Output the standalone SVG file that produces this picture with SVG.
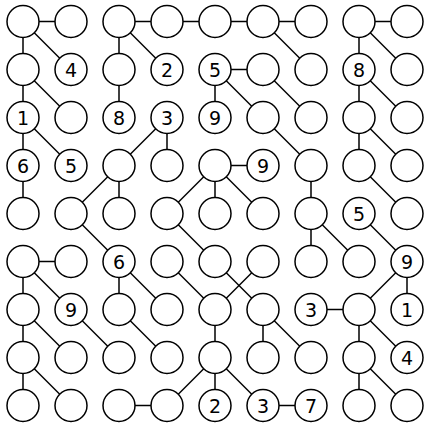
<svg xmlns="http://www.w3.org/2000/svg" width="433" height="432" viewBox="0 0 433 432">
<style>
.n circle{fill:#fff;stroke:#000;stroke-width:1.5}
.n text{font-family:"DejaVu Sans",sans-serif;font-size:19px;text-anchor:middle;fill:#000}
#connectors line{stroke:#000;stroke-width:1.5}
</style>
<rect width="433" height="432" fill="#fff"/>
<g id="connectors">
<line x1="23" y1="21.5" x2="71" y2="21.5"/>
<line x1="23" y1="21.5" x2="23" y2="69.5"/>
<line x1="23" y1="21.5" x2="71" y2="69.5"/>
<line x1="23" y1="69.5" x2="23" y2="117.5"/>
<line x1="23" y1="69.5" x2="71" y2="117.5"/>
<line x1="23" y1="117.5" x2="23" y2="165.5"/>
<line x1="23" y1="117.5" x2="71" y2="165.5"/>
<line x1="23" y1="165.5" x2="23" y2="213.5"/>
<line x1="119" y1="21.5" x2="167" y2="21.5"/>
<line x1="167" y1="21.5" x2="215" y2="21.5"/>
<line x1="215" y1="21.5" x2="263" y2="21.5"/>
<line x1="263" y1="21.5" x2="311" y2="21.5"/>
<line x1="119" y1="21.5" x2="119" y2="69.5"/>
<line x1="119" y1="21.5" x2="167" y2="69.5"/>
<line x1="119" y1="69.5" x2="119" y2="117.5"/>
<line x1="263" y1="21.5" x2="311" y2="69.5"/>
<line x1="215" y1="69.5" x2="263" y2="69.5"/>
<line x1="215" y1="69.5" x2="215" y2="117.5"/>
<line x1="215" y1="69.5" x2="263" y2="117.5"/>
<line x1="263" y1="69.5" x2="311" y2="117.5"/>
<line x1="263" y1="117.5" x2="311" y2="165.5"/>
<line x1="359" y1="21.5" x2="407" y2="21.5"/>
<line x1="359" y1="21.5" x2="359" y2="69.5"/>
<line x1="359" y1="21.5" x2="407" y2="69.5"/>
<line x1="359" y1="69.5" x2="359" y2="117.5"/>
<line x1="359" y1="69.5" x2="407" y2="117.5"/>
<line x1="359" y1="117.5" x2="359" y2="165.5"/>
<line x1="359" y1="117.5" x2="407" y2="165.5"/>
<line x1="359" y1="165.5" x2="407" y2="213.5"/>
<line x1="167" y1="117.5" x2="119" y2="165.5"/>
<line x1="167" y1="117.5" x2="167" y2="165.5"/>
<line x1="119" y1="165.5" x2="71" y2="213.5"/>
<line x1="119" y1="165.5" x2="119" y2="213.5"/>
<line x1="215" y1="165.5" x2="263" y2="165.5"/>
<line x1="215" y1="165.5" x2="167" y2="213.5"/>
<line x1="215" y1="165.5" x2="215" y2="213.5"/>
<line x1="215" y1="165.5" x2="263" y2="213.5"/>
<line x1="311" y1="165.5" x2="311" y2="213.5"/>
<line x1="311" y1="213.5" x2="311" y2="261.5"/>
<line x1="311" y1="213.5" x2="359" y2="261.5"/>
<line x1="359" y1="213.5" x2="407" y2="261.5"/>
<line x1="71" y1="213.5" x2="119" y2="261.5"/>
<line x1="167" y1="213.5" x2="215" y2="261.5"/>
<line x1="23" y1="261.5" x2="71" y2="261.5"/>
<line x1="23" y1="261.5" x2="23" y2="309.5"/>
<line x1="23" y1="261.5" x2="71" y2="309.5"/>
<line x1="119" y1="261.5" x2="119" y2="309.5"/>
<line x1="119" y1="261.5" x2="167" y2="309.5"/>
<line x1="167" y1="261.5" x2="215" y2="309.5"/>
<line x1="215" y1="261.5" x2="263" y2="309.5"/>
<line x1="263" y1="261.5" x2="215" y2="309.5"/>
<line x1="407" y1="261.5" x2="359" y2="309.5"/>
<line x1="407" y1="261.5" x2="407" y2="309.5"/>
<line x1="311" y1="309.5" x2="359" y2="309.5"/>
<line x1="23" y1="309.5" x2="23" y2="357.5"/>
<line x1="23" y1="309.5" x2="71" y2="357.5"/>
<line x1="71" y1="309.5" x2="119" y2="357.5"/>
<line x1="119" y1="309.5" x2="167" y2="357.5"/>
<line x1="215" y1="309.5" x2="215" y2="357.5"/>
<line x1="263" y1="309.5" x2="263" y2="357.5"/>
<line x1="263" y1="309.5" x2="311" y2="357.5"/>
<line x1="359" y1="309.5" x2="359" y2="357.5"/>
<line x1="359" y1="309.5" x2="407" y2="357.5"/>
<line x1="23" y1="357.5" x2="23" y2="405.5"/>
<line x1="23" y1="357.5" x2="71" y2="405.5"/>
<line x1="215" y1="357.5" x2="167" y2="405.5"/>
<line x1="215" y1="357.5" x2="215" y2="405.5"/>
<line x1="215" y1="357.5" x2="263" y2="405.5"/>
<line x1="119" y1="405.5" x2="167" y2="405.5"/>
<line x1="263" y1="405.5" x2="311" y2="405.5"/>
<line x1="359" y1="357.5" x2="359" y2="405.5"/>
<line x1="359" y1="357.5" x2="407" y2="405.5"/>
</g>
<g id="n-0-0" class="n" transform="translate(23,21.5)"><circle r="16"/></g>
<g id="n-0-1" class="n" transform="translate(71,21.5)"><circle r="16"/></g>
<g id="n-0-2" class="n" transform="translate(119,21.5)"><circle r="16"/></g>
<g id="n-0-3" class="n" transform="translate(167,21.5)"><circle r="16"/></g>
<g id="n-0-4" class="n" transform="translate(215,21.5)"><circle r="16"/></g>
<g id="n-0-5" class="n" transform="translate(263,21.5)"><circle r="16"/></g>
<g id="n-0-6" class="n" transform="translate(311,21.5)"><circle r="16"/></g>
<g id="n-0-7" class="n" transform="translate(359,21.5)"><circle r="16"/></g>
<g id="n-0-8" class="n" transform="translate(407,21.5)"><circle r="16"/></g>
<g id="n-1-0" class="n" transform="translate(23,69.5)"><circle r="16"/></g>
<g id="n-1-1" class="n" transform="translate(71,69.5)"><circle r="16"/><text y="7.5">4</text></g>
<g id="n-1-2" class="n" transform="translate(119,69.5)"><circle r="16"/></g>
<g id="n-1-3" class="n" transform="translate(167,69.5)"><circle r="16"/><text y="7.5">2</text></g>
<g id="n-1-4" class="n" transform="translate(215,69.5)"><circle r="16"/><text y="7.5">5</text></g>
<g id="n-1-5" class="n" transform="translate(263,69.5)"><circle r="16"/></g>
<g id="n-1-6" class="n" transform="translate(311,69.5)"><circle r="16"/></g>
<g id="n-1-7" class="n" transform="translate(359,69.5)"><circle r="16"/><text y="7.5">8</text></g>
<g id="n-1-8" class="n" transform="translate(407,69.5)"><circle r="16"/></g>
<g id="n-2-0" class="n" transform="translate(23,117.5)"><circle r="16"/><text y="7.5">1</text></g>
<g id="n-2-1" class="n" transform="translate(71,117.5)"><circle r="16"/></g>
<g id="n-2-2" class="n" transform="translate(119,117.5)"><circle r="16"/><text y="7.5">8</text></g>
<g id="n-2-3" class="n" transform="translate(167,117.5)"><circle r="16"/><text y="7.5">3</text></g>
<g id="n-2-4" class="n" transform="translate(215,117.5)"><circle r="16"/><text y="7.5">9</text></g>
<g id="n-2-5" class="n" transform="translate(263,117.5)"><circle r="16"/></g>
<g id="n-2-6" class="n" transform="translate(311,117.5)"><circle r="16"/></g>
<g id="n-2-7" class="n" transform="translate(359,117.5)"><circle r="16"/></g>
<g id="n-2-8" class="n" transform="translate(407,117.5)"><circle r="16"/></g>
<g id="n-3-0" class="n" transform="translate(23,165.5)"><circle r="16"/><text y="7.5">6</text></g>
<g id="n-3-1" class="n" transform="translate(71,165.5)"><circle r="16"/><text y="7.5">5</text></g>
<g id="n-3-2" class="n" transform="translate(119,165.5)"><circle r="16"/></g>
<g id="n-3-3" class="n" transform="translate(167,165.5)"><circle r="16"/></g>
<g id="n-3-4" class="n" transform="translate(215,165.5)"><circle r="16"/></g>
<g id="n-3-5" class="n" transform="translate(263,165.5)"><circle r="16"/><text y="7.5">9</text></g>
<g id="n-3-6" class="n" transform="translate(311,165.5)"><circle r="16"/></g>
<g id="n-3-7" class="n" transform="translate(359,165.5)"><circle r="16"/></g>
<g id="n-3-8" class="n" transform="translate(407,165.5)"><circle r="16"/></g>
<g id="n-4-0" class="n" transform="translate(23,213.5)"><circle r="16"/></g>
<g id="n-4-1" class="n" transform="translate(71,213.5)"><circle r="16"/></g>
<g id="n-4-2" class="n" transform="translate(119,213.5)"><circle r="16"/></g>
<g id="n-4-3" class="n" transform="translate(167,213.5)"><circle r="16"/></g>
<g id="n-4-4" class="n" transform="translate(215,213.5)"><circle r="16"/></g>
<g id="n-4-5" class="n" transform="translate(263,213.5)"><circle r="16"/></g>
<g id="n-4-6" class="n" transform="translate(311,213.5)"><circle r="16"/></g>
<g id="n-4-7" class="n" transform="translate(359,213.5)"><circle r="16"/><text y="7.5">5</text></g>
<g id="n-4-8" class="n" transform="translate(407,213.5)"><circle r="16"/></g>
<g id="n-5-0" class="n" transform="translate(23,261.5)"><circle r="16"/></g>
<g id="n-5-1" class="n" transform="translate(71,261.5)"><circle r="16"/></g>
<g id="n-5-2" class="n" transform="translate(119,261.5)"><circle r="16"/><text y="7.5">6</text></g>
<g id="n-5-3" class="n" transform="translate(167,261.5)"><circle r="16"/></g>
<g id="n-5-4" class="n" transform="translate(215,261.5)"><circle r="16"/></g>
<g id="n-5-5" class="n" transform="translate(263,261.5)"><circle r="16"/></g>
<g id="n-5-6" class="n" transform="translate(311,261.5)"><circle r="16"/></g>
<g id="n-5-7" class="n" transform="translate(359,261.5)"><circle r="16"/></g>
<g id="n-5-8" class="n" transform="translate(407,261.5)"><circle r="16"/><text y="7.5">9</text></g>
<g id="n-6-0" class="n" transform="translate(23,309.5)"><circle r="16"/></g>
<g id="n-6-1" class="n" transform="translate(71,309.5)"><circle r="16"/><text y="7.5">9</text></g>
<g id="n-6-2" class="n" transform="translate(119,309.5)"><circle r="16"/></g>
<g id="n-6-3" class="n" transform="translate(167,309.5)"><circle r="16"/></g>
<g id="n-6-4" class="n" transform="translate(215,309.5)"><circle r="16"/></g>
<g id="n-6-5" class="n" transform="translate(263,309.5)"><circle r="16"/></g>
<g id="n-6-6" class="n" transform="translate(311,309.5)"><circle r="16"/><text y="7.5">3</text></g>
<g id="n-6-7" class="n" transform="translate(359,309.5)"><circle r="16"/></g>
<g id="n-6-8" class="n" transform="translate(407,309.5)"><circle r="16"/><text y="7.5">1</text></g>
<g id="n-7-0" class="n" transform="translate(23,357.5)"><circle r="16"/></g>
<g id="n-7-1" class="n" transform="translate(71,357.5)"><circle r="16"/></g>
<g id="n-7-2" class="n" transform="translate(119,357.5)"><circle r="16"/></g>
<g id="n-7-3" class="n" transform="translate(167,357.5)"><circle r="16"/></g>
<g id="n-7-4" class="n" transform="translate(215,357.5)"><circle r="16"/></g>
<g id="n-7-5" class="n" transform="translate(263,357.5)"><circle r="16"/></g>
<g id="n-7-6" class="n" transform="translate(311,357.5)"><circle r="16"/></g>
<g id="n-7-7" class="n" transform="translate(359,357.5)"><circle r="16"/></g>
<g id="n-7-8" class="n" transform="translate(407,357.5)"><circle r="16"/><text y="7.5">4</text></g>
<g id="n-8-0" class="n" transform="translate(23,405.5)"><circle r="16"/></g>
<g id="n-8-1" class="n" transform="translate(71,405.5)"><circle r="16"/></g>
<g id="n-8-2" class="n" transform="translate(119,405.5)"><circle r="16"/></g>
<g id="n-8-3" class="n" transform="translate(167,405.5)"><circle r="16"/></g>
<g id="n-8-4" class="n" transform="translate(215,405.5)"><circle r="16"/><text y="7.5">2</text></g>
<g id="n-8-5" class="n" transform="translate(263,405.5)"><circle r="16"/><text y="7.5">3</text></g>
<g id="n-8-6" class="n" transform="translate(311,405.5)"><circle r="16"/><text y="7.5">7</text></g>
<g id="n-8-7" class="n" transform="translate(359,405.5)"><circle r="16"/></g>
<g id="n-8-8" class="n" transform="translate(407,405.5)"><circle r="16"/></g>
</svg>
